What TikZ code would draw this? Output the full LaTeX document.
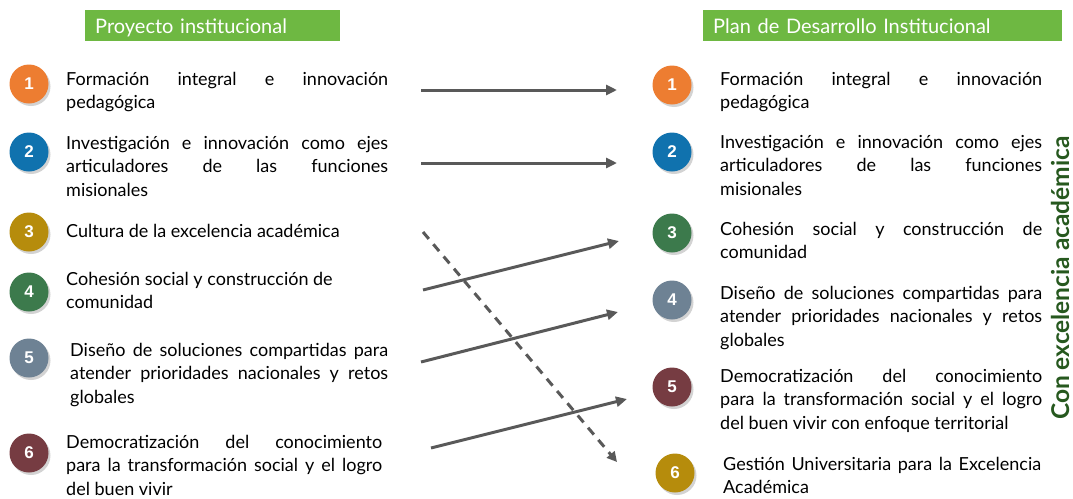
\documentclass[tikz,border=0pt]{standalone}
\usepackage{fontspec}
\usepackage{xcolor}
\usepackage{tikz}
\usetikzlibrary{positioning, shapes, calc, arrows.meta, shadows}
\newfontfamily\gillfont{Lato}
\newfontfamily\numfont{Liberation Sans}
\definecolor{hdrgreen}{RGB}{110,184,66}
\definecolor{vgreen}{RGB}{38,88,30}
\definecolor{arrowgray}{RGB}{89,89,89}
\definecolor{corange}{RGB}{237,125,49}
\definecolor{cblue}{RGB}{16,114,174}
\definecolor{cgold}{RGB}{182,140,12}
\definecolor{cgreen}{RGB}{60,122,76}
\definecolor{cslate}{RGB}{110,130,148}
\definecolor{cmaroon}{RGB}{118,60,66}
\begin{document}
\begin{tikzpicture}[x=1pt, y=-1pt,
	hdr/.style={fill=hdrgreen, text=white, text height=23pt, text depth=8pt, inner xsep=10pt, inner ysep=0pt, anchor=west, align=left, font=\gillfont\fontsize{20}{20}\selectfont},
	badge/.style={circle, minimum size=39pt, inner sep=0pt, text=white, font=\numfont\bfseries\fontsize{17}{17}\selectfont, drop shadow={shadow xshift=2pt, shadow yshift=-2.5pt, opacity=0.35}},
	item/.style={anchor=north west, inner sep=0pt, text width=322pt, align=justify, font=\gillfont\fontsize{18}{23.5}\selectfont},
	conn/.style={draw=arrowgray, line width=3pt, -{Triangle[length=11pt, width=10pt]}},
	dconn/.style={draw=arrowgray, line width=3pt, dash pattern=on 9pt off 7pt, -{Triangle[length=10pt, width=10pt]}}]
				\useasboundingbox (0,0) rectangle (1073,498);
				
				\node [hdr, text width=235pt] (hdrL) at (85,25.5) {Proyecto institucional};
				\node [hdr, text width=339pt] (hdrR) at (703,25.5) {Plan de Desarrollo Institucional};
				
				\node [badge, fill=corange] (nL1) at (29,84) {1};
				\node [badge, fill=cblue] (nL2) at (29,152) {2};
				\node [badge, fill=cgold] (nL3) at (29,232) {3};
				\node [badge, fill=cgreen] (nL4) at (29,292) {4};
				\node [badge, fill=cslate] (nL5) at (29,358) {5};
				\node [badge, fill=cmaroon] (nL6) at (29,453) {6};
				
				\node [item] (tL1) at (66,68.5) {\strut Formación integral e innovación\linebreak pedagógica};
				\node [item] (tL2) at (66,132.5) {\strut Investigación e innovación como ejes\linebreak articuladores de las funciones\linebreak misionales};
				\node [item] (tL3) at (66,220.5) {\strut Cultura de la excelencia académica};
				\node [item] (tL4) at (66,268.5) {\strut Cohesión social y construcción de\\ comunidad};
				\node [item, text width=318pt] (tL5) at (70,339.5) {\strut Diseño de soluciones compartidas para\linebreak atender prioridades nacionales y retos\linebreak globales};
				\node [item, text width=316pt] (tL6) at (66,431.5) {\strut Democratización del conocimiento\linebreak para la transformación social y el logro\linebreak del buen vivir};
				
				\node [badge, fill=corange] (nR1) at (672,85) {1};
				\node [badge, fill=cblue] (nR2) at (672,152) {2};
				\node [badge, fill=cgreen] (nR3) at (672,233) {3};
				\node [badge, fill=cslate] (nR4) at (672,300) {4};
				\node [badge, fill=cmaroon] (nR5) at (672,387) {5};
				\node [badge, fill=cgold] (nR6) at (675,473) {6};
				
				\node [item] (tR1) at (720,68.5) {\strut Formación integral e innovación\linebreak pedagógica};
				\node [item] (tR2) at (720,131.5) {\strut Investigación e innovación como ejes\linebreak articuladores de las funciones\linebreak misionales};
				\node [item] (tR3) at (720,218.5) {\strut Cohesión social y construcción de\linebreak comunidad};
				\node [item] (tR4) at (720,282.5) {\strut Diseño de soluciones compartidas para\linebreak atender prioridades nacionales y retos\linebreak globales};
				\node [item] (tR5) at (720,365.5) {\strut Democratización del conocimiento\linebreak para la transformación social y el logro\linebreak del buen vivir con enfoque territorial};
				\node [item, text width=318pt] (tR6) at (723,453.5) {\strut Gestión Universitaria para la Excelencia\linebreak Académica};
				
				\node [rotate=90, anchor=base, inner sep=0pt, text=vgreen, font=\gillfont\bfseries\fontsize{24.5}{24.5}\selectfont] (vlabel) at (1069,278) {Con excelencia académica};
				
				\coordinate (s1) at (421,90);
				\coordinate (e1) at (617,90);
				\coordinate (s2) at (421,163);
				\coordinate (e2) at (617,163);
				\coordinate (s4) at (423,290);
				\coordinate (e3) at (619,241);
				\coordinate (s5) at (421,362);
				\coordinate (e4) at (618,312);
				\coordinate (s6) at (431,448);
				\coordinate (e5) at (627,399);
				\coordinate (s3) at (423,232);
				\coordinate (e6) at (617,462);
				
				\draw [conn] (s1) -- (e1);
				\draw [conn] (s2) -- (e2);
				\draw [conn] (s4) -- (e3);
				\draw [conn] (s5) -- (e4);
				\draw [conn] (s6) -- (e5);
				\draw [dconn] (s3) -- (e6);
\end{tikzpicture}
\end{document}
